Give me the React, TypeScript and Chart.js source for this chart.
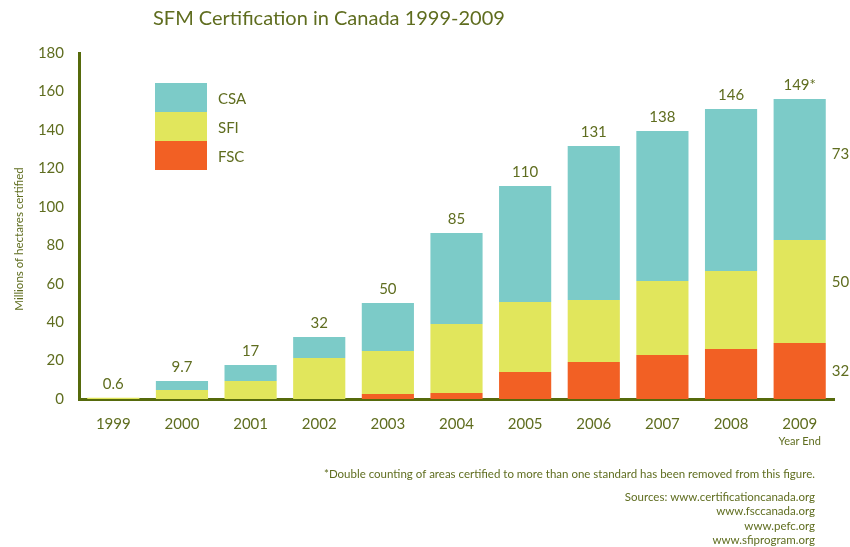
import React, { useEffect, useRef } from "react";
import { Chart, registerables } from "chart.js";

Chart.register(...registerables);

const years = ["1999", "2000", "2001", "2002", "2003", "2004", "2005", "2006", "2007", "2008", "2009"];
const fsc = [0, 0, 0, 0, 2.6, 3.1, 14.0, 19.3, 22.9, 26.0, 29.1];
const sfi = [0.6, 4.7, 9.4, 21.3, 22.4, 35.9, 36.5, 32.2, 38.5, 40.6, 53.6];
const csa = [0, 4.7, 8.3, 11.0, 24.9, 47.4, 60.3, 80.1, 78.0, 84.3, 73.4];
const totalLabels = ["0.6", "9.7", "17", "32", "50", "85", "110", "131", "138", "146", "149*"];
const lastYearLabels = ["32", "50", "73"]; // FSC, SFI, CSA for 2009
const yTicks = [0, 20, 40, 60, 80, 100, 120, 140, 160, 180];

const titleText = "SFM Certification in Canada 1999-2009";
const yTitle = "Millions of hectares certified";
const footnote = "*Double counting of areas certified to more than one standard has been removed from this figure.";
const sources = [
  "Sources: www.certificationcanada.org",
  "www.fsccanada.org",
  "www.pefc.org",
  "www.sfiprogram.org",
];

const TEXT = "#5f6d1f";
const AXIS = "#566a0c";
const FONT = "Lato, 'Open Sans', sans-serif";
const C_CSA = "#7ccbc8";
const C_SFI = "#e1e65c";
const C_FSC = "#f26024";

const overlay = {
  id: "overlay",
  afterDatasetsDraw(chart: any) {
    const ctx = chart.ctx;
    const ca = chart.chartArea;
    const xs = chart.scales.x;
    const ys = chart.scales.y;
    ctx.save();
    ctx.fillStyle = TEXT;

    // title
    ctx.font = `20px ${FONT}`;
    ctx.textAlign = "left";
    ctx.textBaseline = "middle";
    ctx.fillText(titleText, 153, 19);

    // y title
    ctx.save();
    ctx.font = `11.5px ${FONT}`;
    ctx.translate(19, (ca.top + ca.bottom) / 2 + 13);
    ctx.rotate(-Math.PI / 2);
    ctx.textAlign = "center";
    ctx.textBaseline = "middle";
    ctx.fillText(yTitle, 0, 0);
    ctx.restore();

    // totals above bars
    ctx.font = `15px ${FONT}`;
    ctx.textAlign = "center";
    ctx.textBaseline = "middle";
    years.forEach((_, i) => {
      const total = fsc[i] + sfi[i] + csa[i];
      const x = xs.getPixelForValue(i);
      const y = ys.getPixelForValue(total) - 14;
      ctx.fillText(totalLabels[i], x, y);
    });

    // 2009 segment labels
    const li = years.length - 1;
    const bounds = [
      [0, fsc[li]],
      [fsc[li], fsc[li] + sfi[li]],
      [fsc[li] + sfi[li], fsc[li] + sfi[li] + csa[li]],
    ];
    const offs = [0, -9, -15];
    ctx.textAlign = "left";
    bounds.forEach((b, k) => {
      const y = ys.getPixelForValue((b[0] + b[1]) / 2) + offs[k];
      ctx.fillText(lastYearLabels[k], xs.getPixelForValue(li) + 32, y);
    });

    // Year End
    ctx.font = `11px ${FONT}`;
    ctx.textAlign = "center";
    ctx.fillText("Year End", xs.getPixelForValue(li), 441);

    // legend
    const legendItems = [
      { label: "CSA", color: C_CSA },
      { label: "SFI", color: C_SFI },
      { label: "FSC", color: C_FSC },
    ];
    legendItems.forEach((it, k) => {
      const y0 = 83 + k * 29;
      ctx.fillStyle = it.color;
      ctx.fillRect(155, y0, 52, 29);
      ctx.fillStyle = TEXT;
      ctx.font = `15px ${FONT}`;
      ctx.textAlign = "left";
      ctx.textBaseline = "middle";
      ctx.fillText(it.label, 218, y0 + 16);
    });

    // footnotes
    ctx.font = `11.5px ${FONT}`;
    ctx.textAlign = "right";
    ctx.textBaseline = "middle";
    ctx.fillText(footnote, 815, 474);
    sources.forEach((s, k) => {
      ctx.fillText(s, 815, 497 + k * 14.5);
    });

    ctx.restore();
  },
};

export default function App() {
  const ref = useRef<HTMLCanvasElement>(null);
  useEffect(() => {
    if (!ref.current) return;
    const chart = new Chart(ref.current, {
      type: "bar",
      data: {
        labels: years,
        datasets: [
          { label: "FSC", data: fsc, backgroundColor: C_FSC },
          { label: "SFI", data: sfi, backgroundColor: C_SFI },
          { label: "CSA", data: csa, backgroundColor: C_CSA },
        ],
      },
      options: {
        responsive: false,
        animation: false,
        layout: { padding: { top: 53, right: 16, bottom: 108, left: 0 } },
        datasets: { bar: { barPercentage: 0.76, categoryPercentage: 1 } } as any,
        plugins: {
          legend: { display: false },
          tooltip: { enabled: false },
          title: { display: false },
        },
        scales: {
          x: {
            stacked: true,
            grid: { display: false, drawTicks: false },
            border: { display: true, color: AXIS, width: 3 },
            ticks: { color: TEXT, font: { family: FONT, size: 15 }, padding: 16 },
            afterFit: (s: any) => { s.height = 40; },
          },
          y: {
            stacked: true,
            min: 0,
            max: 180,
            grid: { display: false, drawTicks: false },
            border: { display: true, color: AXIS, width: 3 },
            afterBuildTicks: (s: any) => { s.ticks = yTicks.map((v) => ({ value: v })); },
            ticks: { color: TEXT, font: { family: FONT, size: 15 }, padding: 15 },
            afterFit: (s: any) => { s.width = 79; },
          },
        },
      },
      plugins: [overlay],
    });
    return () => chart.destroy();
  }, []);
  return (
    <div style={{ position: "absolute", left: 0, top: 0, width: 850, height: 547, background: "#fff" }}>
      <canvas ref={ref} width={850} height={547} />
    </div>
  );
}
